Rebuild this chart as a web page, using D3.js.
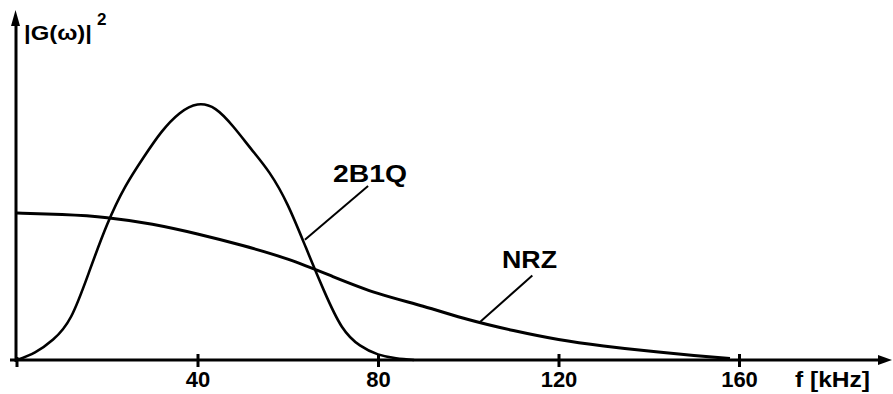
<!DOCTYPE html>
<html>
<head>
<meta charset="utf-8">
<script src="https://cdn.jsdelivr.net/npm/d3@7"></script>
<style>
  html, body { margin: 0; padding: 0; background: #fff; }
  svg { display: block; }
  text { font-family: "Liberation Sans", Arial, sans-serif; font-weight: bold; fill: #000; }
</style>
</head>
<body>
<svg id="chart" width="893" height="394"></svg>
<script>
// ---- data ----
const freqB1Q = [0, 4, 8, 12, 16, 20, 24, 28, 32, 36, 40, 44, 48, 52, 56, 60, 64, 68, 72, 76, 80, 84, 88];
const valB1Q  = [0, 0.03, 0.08, 0.17, 0.345, 0.53, 0.677, 0.79, 0.89, 0.963, 0.998, 0.98, 0.91, 0.822, 0.73, 0.605, 0.44, 0.272, 0.13, 0.057, 0.022, 0.007, 0];
const freqNRZ = [0, 10, 20, 30, 40, 50, 60, 70, 80, 90, 100, 110, 120, 130, 140, 150, 158];
const valNRZ  = [0.574, 0.568, 0.556, 0.53, 0.492, 0.447, 0.394, 0.326, 0.26, 0.21, 0.158, 0.115, 0.08, 0.055, 0.035, 0.018, 0.006];
const xTicks = [40, 80, 120, 160];
const xAxisLabel = "f [kHz]";
const yAxisLabel = "|G(ω)|";
const yAxisSup = "2";
const seriesNames = ["2B1Q", "NRZ"];
// annotation anchors in data coords: [point on curve f, value], [label end f, value]
const leader2B1Q = [[63.8, 0.47], [77.8, 0.68]];
const leaderNRZ  = [[102.6, 0.148], [114.2, 0.33]];

// ---- scales ----
const svg = d3.select("#chart");
const x = d3.scaleLinear().domain([0, 160]).range([17, 739]);
const y = d3.scaleLinear().domain([0, 1]).range([360, 104]);

// ---- x axis ----
const xAxis = d3.axisBottom(x).tickValues(xTicks).tickSize(0).tickFormat(d3.format("d"));
const gx = svg.append("g").attr("transform", `translate(0,${y(0)})`).call(xAxis);
gx.select(".domain").remove();
gx.selectAll(".tick text").attr("y", 27).attr("dy", 0).attr("font-size", 22)
  .attr("font-family", "Liberation Sans, Arial, sans-serif").attr("font-weight", "bold");
gx.selectAll(".tick line").attr("y1", -6).attr("y2", 7).attr("stroke", "#000").attr("stroke-width", 3);
svg.append("line").attr("x1", 10).attr("x2", 884).attr("y1", y(0)).attr("y2", y(0))
  .attr("stroke", "#000").attr("stroke-width", 3);
svg.append("path").attr("d", `M892,${y(0)} L878,${y(0) - 5} L878,${y(0) + 5} Z`).attr("fill", "#000");
svg.append("line").attr("x1", x(0)).attr("x2", x(0)).attr("y1", y(0) - 3).attr("y2", y(0) + 7)
  .attr("stroke", "#000").attr("stroke-width", 3);
svg.append("text").attr("x", 795).attr("y", 387).attr("font-size", 22)
  .attr("textLength", 75).attr("lengthAdjust", "spacingAndGlyphs").text(xAxisLabel);

// ---- y axis ----
svg.append("line").attr("x1", 16).attr("x2", 16).attr("y1", y(0) + 2).attr("y2", 20)
  .attr("stroke", "#000").attr("stroke-width", 3);
svg.append("path").attr("d", `M15.5,10 L11,26 L20,26 Z`).attr("fill", "#000");
svg.append("text").attr("x", 24).attr("y", 40).attr("font-size", 21)
  .attr("textLength", 68).attr("lengthAdjust", "spacingAndGlyphs").text(yAxisLabel);
svg.append("text").attr("x", 97).attr("y", 25).attr("font-size", 17).text(yAxisSup);

// ---- curves ----
const line = d3.line().x(d => x(d[0])).y(d => y(d[1])).curve(d3.curveNatural);
svg.append("path").datum(d3.zip(freqNRZ, valNRZ)).attr("d", line)
  .attr("fill", "none").attr("stroke", "#000").attr("stroke-width", 3);
svg.append("path").datum(d3.zip(freqB1Q, valB1Q)).attr("d", line)
  .attr("fill", "none").attr("stroke", "#000").attr("stroke-width", 2.6);

// ---- annotations ----
function leader(pts) {
  svg.append("line").attr("x1", x(pts[0][0])).attr("y1", y(pts[0][1]))
    .attr("x2", x(pts[1][0])).attr("y2", y(pts[1][1]))
    .attr("stroke", "#000").attr("stroke-width", 2);
}
leader(leader2B1Q);
leader(leaderNRZ);
svg.append("text").attr("x", 333).attr("y", 182).attr("font-size", 23)
  .attr("textLength", 74).attr("lengthAdjust", "spacingAndGlyphs").text(seriesNames[0]);
svg.append("text").attr("x", 502).attr("y", 268).attr("font-size", 23)
  .attr("textLength", 55).attr("lengthAdjust", "spacingAndGlyphs").text(seriesNames[1]);
</script>
</body>
</html>
